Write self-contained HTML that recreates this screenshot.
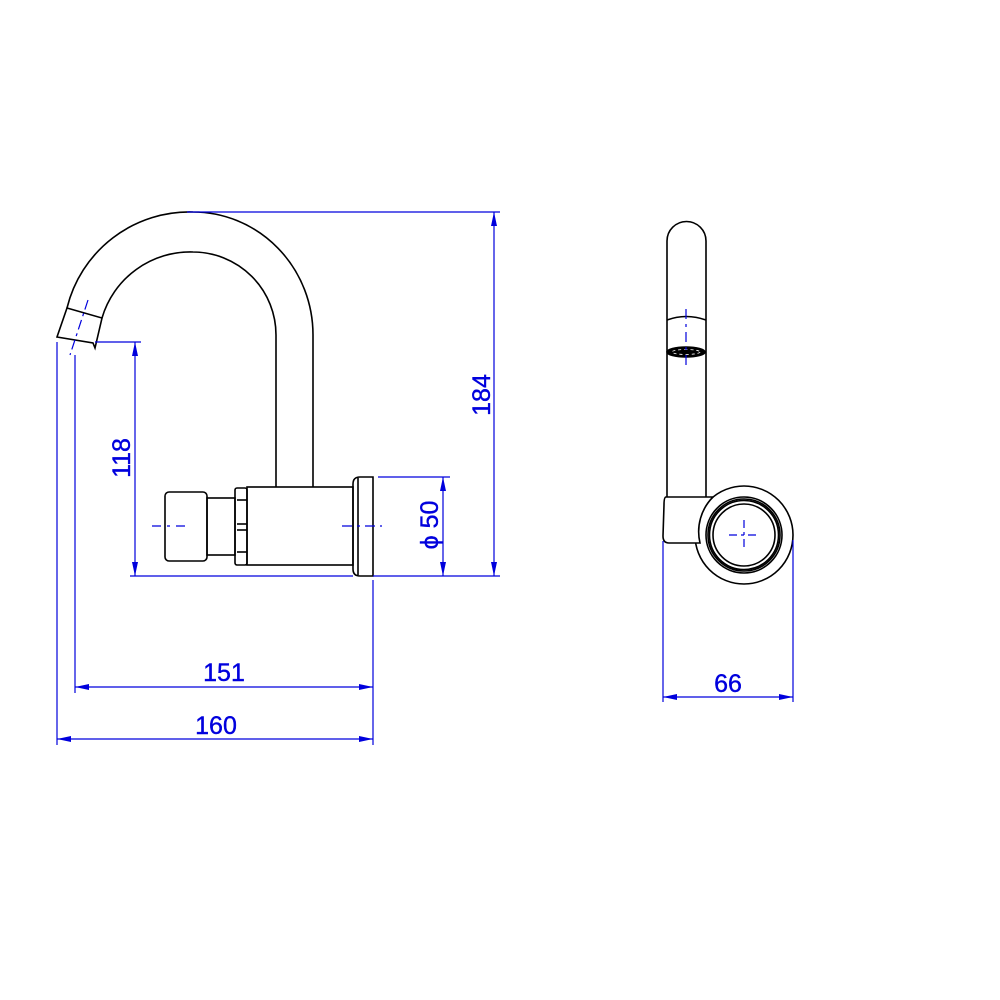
<!DOCTYPE html>
<html><head><meta charset="utf-8"><style>html,body{margin:0;padding:0;background:#fff}svg{display:block}</style></head><body>
<svg width="1000" height="1000" viewBox="0 0 1000 1000" xmlns="http://www.w3.org/2000/svg">
<defs>
<marker id="a" viewBox="0 0 14 6" refX="14" refY="3" markerWidth="14" markerHeight="6" markerUnits="userSpaceOnUse" orient="auto-start-reverse"><path d="M0,0 L14,3 L0,6 Z" fill="#0000dd"/></marker>
</defs>
<g fill="none" stroke="#000" stroke-width="1.6">
<path d="M313,487 L313,335 A120,123 0 0 0 193,212 A126,126 0 0 0 67,308"/>
<path d="M276,487 L276,335 A83,83 0 0 0 193,252 A92,92 0 0 0 102,318"/>
<path d="M67,308 L102,318 L95,348 L93,343 L57,337 Z"/>
<rect x="165" y="492" width="42" height="69" rx="4" fill="#fff"/>
<rect x="207" y="498" width="28" height="57"/>
<rect x="235" y="488" width="12" height="77" rx="2"/>
<line x1="237" y1="500" x2="247" y2="500"/><line x1="237" y1="524" x2="247" y2="524"/><line x1="237" y1="530" x2="247" y2="530"/><line x1="237" y1="552" x2="247" y2="552"/>
<rect x="247" y="487" width="106" height="78"/>
<path d="M360,477 L373,477 L373,576 L360,576 Q353,576 353,569 L353,484 Q353,477 360,477 Z"/>
<line x1="358" y1="478" x2="358" y2="575"/>
<path d="M667,497 L667,241 A19.5,19.5 0 0 1 706,241 L706,497"/>
<path d="M667,320 Q686,313 706,320"/>
<ellipse cx="686" cy="352" rx="19" ry="5" fill="#000"/>
<circle cx="744" cy="535" r="49"/>
<path d="M666,497 L713,497 A49,49 0 0 0 700,543 L669,543 Q663,543 663,536 L664,505 Q664,497 666,497 Z" fill="#fff"/>
<circle cx="744" cy="535" r="38" fill="#fff"/>
<circle cx="744" cy="535" r="36"/>
<circle cx="744" cy="535" r="34.5"/>
<circle cx="744" cy="535" r="31"/>
</g>
<ellipse cx="686" cy="352" rx="14" ry="2.5" fill="none" stroke="#fff" stroke-width="0.8" stroke-dasharray="3 3"/>
<g stroke="#0000dd" stroke-width="1.2" fill="none">
<line x1="88" y1="300" x2="70" y2="355" stroke-dasharray="10 4 3 4"/>
<line x1="152" y1="526" x2="185" y2="526" stroke-dasharray="9 6 3 6"/>
<line x1="342" y1="526" x2="382" y2="526" stroke-dasharray="10 5 3 5"/>
<line x1="686" y1="309" x2="686" y2="365" stroke-dasharray="10 5 3 5"/>
<line x1="744" y1="520" x2="744" y2="550" stroke-dasharray="8 4 3 4"/>
<line x1="729" y1="535" x2="759" y2="535" stroke-dasharray="8 4 3 4"/>
<line x1="187" y1="212" x2="500" y2="212"/>
<line x1="373" y1="576" x2="500" y2="576"/>
<line x1="130" y1="576" x2="353" y2="576"/>
<line x1="95" y1="342" x2="141" y2="342"/>
<line x1="378" y1="477" x2="450" y2="477"/>
<line x1="75" y1="355" x2="75" y2="693"/>
<line x1="57" y1="342" x2="57" y2="745"/>
<line x1="373" y1="580" x2="373" y2="745"/>
<line x1="663" y1="541" x2="663" y2="702"/>
<line x1="793" y1="540" x2="793" y2="702"/>
<line x1="135" y1="342" x2="135" y2="576" marker-start="url(#a)" marker-end="url(#a)"/>
<line x1="494" y1="212" x2="494" y2="576" marker-start="url(#a)" marker-end="url(#a)"/>
<line x1="443" y1="477" x2="443" y2="576" marker-start="url(#a)" marker-end="url(#a)"/>
<line x1="75" y1="687" x2="373" y2="687" marker-start="url(#a)" marker-end="url(#a)"/>
<line x1="57" y1="739" x2="373" y2="739" marker-start="url(#a)" marker-end="url(#a)"/>
<line x1="663" y1="697" x2="793" y2="697" marker-start="url(#a)" marker-end="url(#a)"/>
</g>
<g fill="#0000dd" stroke="#0000dd" stroke-width="0.4" font-family="Liberation Sans, sans-serif" font-size="25" text-anchor="middle">
<text x="224" y="681">151</text>
<text x="216" y="734">160</text>
<text x="728" y="692">66</text>
<text transform="translate(130,458) rotate(-90)">118</text>
<text transform="translate(490,395) rotate(-90)">184</text>
<text transform="translate(438,525) rotate(-90)">ϕ 50</text>
</g>
</svg>
</body></html>
